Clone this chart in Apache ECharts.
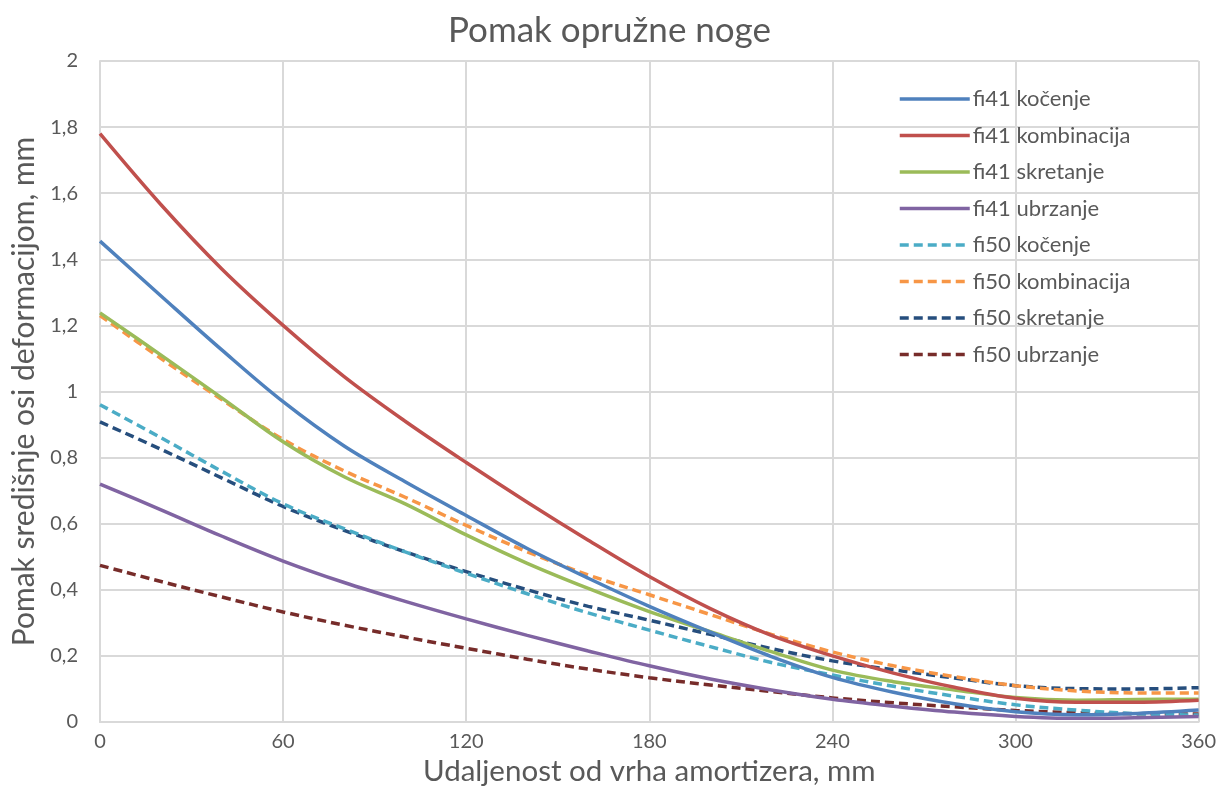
<!DOCTYPE html>
<html><head><meta charset="utf-8">
<script src="https://cdn.jsdelivr.net/npm/echarts@6/dist/echarts.min.js"></script>
<style>html,body{margin:0;padding:0;background:#fff}#c{width:1219px;height:808px}</style>
</head><body><div id="c"></div>
<script>
const xValues = [0,20,40,60,80,100,120,140,160,180,200,220,240,260,280,300,320,340,360];
const seriesNames = ['fi41 kočenje','fi41 kombinacija','fi41 skretanje','fi41 ubrzanje','fi50 kočenje','fi50 kombinacija','fi50 skretanje','fi50 ubrzanje'];
const fi41Kocenje     = [1.455,1.289,1.125,0.969,0.835,0.727,0.625,0.525,0.435,0.35,0.272,0.198,0.135,0.09,0.055,0.031,0.022,0.026,0.036];
const fi41Kombinacija = [1.78,1.565,1.37,1.20,1.045,0.91,0.785,0.665,0.55,0.44,0.343,0.262,0.2,0.148,0.105,0.072,0.06,0.06,0.066];
const fi41Skretanje   = [1.238,1.11,0.98,0.848,0.742,0.66,0.566,0.48,0.404,0.334,0.273,0.213,0.157,0.122,0.097,0.074,0.066,0.068,0.069];
const fi41Ubrzanje    = [0.72,0.642,0.562,0.487,0.422,0.365,0.312,0.262,0.215,0.17,0.13,0.097,0.069,0.048,0.03,0.017,0.011,0.013,0.017];
const fi50Kocenje     = [0.96,0.86,0.758,0.66,0.585,0.515,0.45,0.388,0.33,0.278,0.228,0.18,0.142,0.108,0.078,0.052,0.036,0.025,0.021];
const fi50Kombinacija = [1.23,1.10,0.975,0.855,0.76,0.68,0.595,0.515,0.445,0.385,0.325,0.265,0.212,0.17,0.137,0.11,0.094,0.088,0.088];
const fi50Skretanje   = [0.908,0.825,0.738,0.652,0.58,0.515,0.455,0.40,0.35,0.308,0.265,0.222,0.185,0.158,0.133,0.11,0.101,0.10,0.104];
const fi50Ubrzanje    = [0.474,0.425,0.378,0.333,0.293,0.257,0.223,0.19,0.16,0.134,0.112,0.092,0.073,0.058,0.046,0.035,0.028,0.025,0.024];
const allValues = [fi41Kocenje,fi41Kombinacija,fi41Skretanje,fi41Ubrzanje,fi50Kocenje,fi50Kombinacija,fi50Skretanje,fi50Ubrzanje];
const colors = ['#4F81BD','#C0504D','#9BBB59','#8064A2','#4BACC6','#F79646','#264E7D','#772C2A'];
const dashed = [false,false,false,false,true,true,true,true];

const FONT = 'Lato, "Open Sans", sans-serif';
const TXT = '#595959';
const lineType = i => dashed[i] ? [9,5] : 'solid';
const chart = echarts.init(document.getElementById('c'), null, {renderer:'canvas'});
chart.setOption({
  animation:false,
  backgroundColor:'#fff',
  title:{text:'Pomak opružne noge',left:'center',top:8,textStyle:{fontFamily:FONT,fontSize:35,fontWeight:'normal',color:TXT}},
  grid:{left:100,right:20,top:61,bottom:86},
  legend:{orient:'vertical',left:893,top:83,itemWidth:70,itemHeight:14,itemGap:14.5,
    textStyle:{fontFamily:FONT,fontSize:22,color:TXT,padding:[0,0,0,-2]},
    data:seriesNames.map((n,i)=>({name:n,itemStyle:{opacity:0},
      lineStyle:{color:colors[i],width:3.5,type:lineType(i),opacity:1}}))},
  xAxis:{type:'value',min:0,max:360,interval:60,
    name:'Udaljenost od vrha amortizera, mm',nameLocation:'middle',nameGap:25,
    nameTextStyle:{fontFamily:FONT,fontSize:29.5,color:TXT},
    axisLine:{show:true,lineStyle:{color:'#D9D9D9',width:2}},axisTick:{show:false},
    axisLabel:{fontFamily:FONT,fontSize:20,color:TXT,margin:10},
    splitLine:{show:true,lineStyle:{color:'#D9D9D9',width:2}}},
  yAxis:{type:'value',min:0,max:2,interval:0.2,
    name:'Pomak središnje osi deformacijom, mm',nameLocation:'middle',nameGap:55,
    nameTextStyle:{fontFamily:FONT,fontSize:30,color:TXT},
    axisLine:{show:true,lineStyle:{color:'#D9D9D9',width:2}},axisTick:{show:false},
    axisLabel:{fontFamily:FONT,fontSize:20,color:TXT,margin:22,
      formatter:v=>String(Number(v.toFixed(1))).replace('.',',')},
    splitLine:{show:true,lineStyle:{color:'#D9D9D9',width:2}}},
  series:allValues.map((vals,i)=>({
    name:seriesNames[i],type:'line',smooth:0.35,showSymbol:false,symbol:'none',
    data:xValues.map((x,j)=>[x,vals[j]]),
    lineStyle:{color:colors[i],width:3.5,type:lineType(i)},
    itemStyle:{color:colors[i]},
    z:10-i
  }))
});
</script></body></html>
